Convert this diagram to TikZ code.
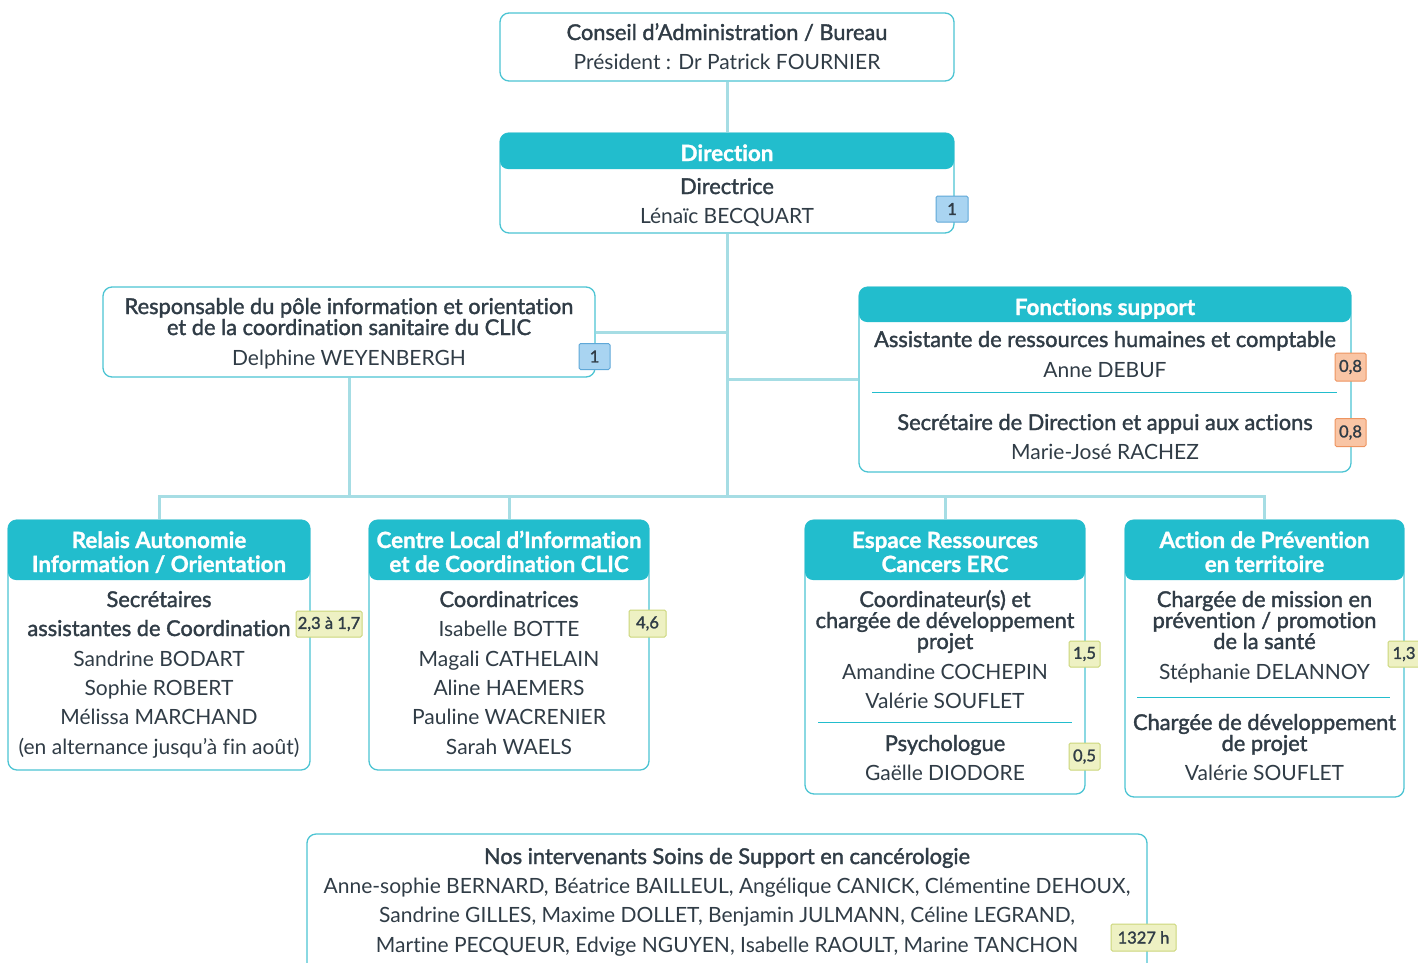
\documentclass[tikz,border=0pt]{standalone}
\usepackage{fontspec}
\setmainfont{Lato}[Ligatures=NoCommon]
\newfontfamily\medfont[FakeBold=1.6,Ligatures=NoCommon]{Lato}
\newfontfamily\hdfont[BoldFeatures={FakeBold=1.2},Ligatures=NoCommon]{Lato}
\definecolor{tealc}{HTML}{22BDCD}
\definecolor{bordc}{HTML}{4CC4D3}
\definecolor{linec}{HTML}{A6DDE4}
\definecolor{txt}{HTML}{303C46}
\definecolor{bluef}{HTML}{A9D4F1}
\definecolor{blued}{HTML}{5FA8D8}
\definecolor{orf}{HTML}{F9C5A5}
\definecolor{ord}{HTML}{EE9460}
\definecolor{grf}{HTML}{EEF1C3}
\definecolor{grd}{HTML}{CBD67A}
\newcounter{tn}
\newcommand{\tx}[4][]{\stepcounter{tn}\node[tt,#1] (t\arabic{tn}) at (#2,#3) {#4};}
\tikzset{
  box/.style={draw=bordc, line width=1.3pt, rounded corners=9pt, fill=white, inner sep=0pt},
  hdr/.style={fill=tealc, rounded corners=8pt, inner sep=0pt},
  conn/.style={draw=linec, line width=3pt},
  sep/.style={draw=tealc, line width=1pt},
  tt/.style={anchor=base, inner sep=0pt, text=txt, font=\fontsize{21}{25}\selectfont},
  md/.style={font=\medfont\fontsize{21.8}{25}\selectfont},
  hd/.style={text=white, font=\hdfont\bfseries\fontsize{22.4}{25}\selectfont},
  badge/.style={draw=#1d, fill=#1f, line width=1pt, rounded corners=1.5pt, inner sep=0pt, minimum height=26pt, text=txt, font=\medfont\fontsize{16.5}{16.5}\selectfont},
}
\begin{document}
\begin{tikzpicture}[x=1pt,y=-1pt]
\useasboundingbox (0,0) rectangle (1418,962);
\clip (0,0) rectangle (1418,962);
% boxes
\node[box, minimum width=454pt, minimum height=68pt] (conseil) at (727,47) {};
\node[box, minimum width=454pt, minimum height=100pt] (direction) at (727,183) {};
\node[box, minimum width=492pt, minimum height=90pt] (resp) at (349,332) {};
\node[box, minimum width=492pt, minimum height=185pt] (fonctions) at (1105,379.5) {};
\node[box, minimum width=302pt, minimum height=250pt] (relais) at (159,645) {};
\node[box, minimum width=280pt, minimum height=250pt] (clic) at (509,645) {};
\node[box, minimum width=280pt, minimum height=274pt] (erc) at (945,657) {};
\node[box, minimum width=279pt, minimum height=277pt] (action) at (1264.5,658.5) {};
\node[box, minimum width=840pt, minimum height=166pt] (bottom) at (727,917) {};
% headers
\node[hdr, minimum width=454pt, minimum height=36pt] (dirh) at (727,151) {};
\node[hdr, minimum width=492pt, minimum height=35pt] (fonh) at (1105,304.5) {};
\node[hdr, minimum width=302pt, minimum height=60pt] (relh) at (159,550) {};
\node[hdr, minimum width=280pt, minimum height=60pt] (clih) at (509,550) {};
\node[hdr, minimum width=280pt, minimum height=60pt] (erch) at (945,550) {};
\node[hdr, minimum width=279pt, minimum height=60pt] (acth) at (1264.5,550) {};
% connectors
\coordinate (bus) at (727,496);
\draw[conn] (conseil.south) -- (direction.north);
\draw[conn] (direction.south) -- (bus);
\draw[conn] (resp.east) -- (resp.east -| direction.south);
\draw[conn] (fonctions.west) -- (fonctions.west -| direction.south);
\draw[conn] (resp.south) -- (resp.south |- bus);
\draw[conn] (relais.north) |- (bus) -| (action.north);
\draw[conn] (clic.north) -- (clic.north |- bus);
\draw[conn] (erc.north) -- (erc.north |- bus);
% separators
\draw[sep] (872,392) -- (1337,392);
\draw[sep] (818,722) -- (1072,722);
\draw[sep] (1137,697) -- (1390,697);
% texts
\tx[md]{727}{40}{Conseil d’Administration / Bureau}
\tx{727}{69}{Président : Dr Patrick FOURNIER}
\tx[hd]{727}{161}{Direction}
\tx[md]{727}{194}{Directrice}
\tx{727}{223}{Lénaïc BECQUART}
\tx[md]{349}{314}{Responsable du pôle information et orientation}
\tx[md]{349}{335}{et de la coordination sanitaire du CLIC}
\tx{349}{365}{Delphine WEYENBERGH}
\tx[hd]{1105}{315}{Fonctions support}
\tx[md]{1105}{347}{Assistante de ressources humaines et comptable}
\tx{1105}{377}{Anne DEBUF}
\tx[md]{1105}{430}{Secrétaire de Direction et appui aux actions}
\tx{1105}{459}{Marie-José RACHEZ}
% Relais
\tx[hd]{159}{548}{Relais Autonomie}
\tx[hd]{159}{572}{Information / Orientation}
\tx[md]{159}{607}{Secrétaires}
\tx[md]{159}{636}{assistantes de Coordination}
\tx{159}{666}{Sandrine BODART}
\tx{159}{695}{Sophie ROBERT}
\tx{159}{724}{Mélissa MARCHAND}
\tx{159}{754}{(en alternance jusqu’à fin août)}
% CLIC
\tx[hd]{509}{548}{Centre Local d’Information}
\tx[hd]{509}{572}{et de Coordination CLIC}
\tx[md]{509}{607}{Coordinatrices}
\tx{509}{636}{Isabelle BOTTE}
\tx{509}{666}{Magali CATHELAIN}
\tx{509}{695}{Aline HAEMERS}
\tx{509}{724}{Pauline WACRENIER}
\tx{509}{754}{Sarah WAELS}
% ERC
\tx[hd]{945}{548}{Espace Ressources}
\tx[hd]{945}{572}{Cancers ERC}
\tx[md]{945}{607}{Coordinateur(s) et}
\tx[md]{945}{628}{chargée de développement}
\tx[md]{945}{649}{projet}
\tx{945}{679}{Amandine COCHEPIN}
\tx{945}{708}{Valérie SOUFLET}
\tx[md]{945}{751}{Psychologue}
\tx{945}{780}{Gaëlle DIODORE}
% Action
\tx[hd]{1264.5}{548}{Action de Prévention}
\tx[hd]{1264.5}{572}{en territoire}
\tx[md]{1264.5}{607}{Chargée de mission en}
\tx[md]{1264.5}{628}{prévention / promotion}
\tx[md]{1264.5}{649}{de la santé}
\tx{1264.5}{679}{Stéphanie DELANNOY}
\tx[md]{1264.5}{730}{Chargée de développement}
\tx[md]{1264.5}{751}{de projet}
\tx{1264.5}{780}{Valérie SOUFLET}
% bottom
\tx[md]{727}{864}{Nos intervenants Soins de Support en cancérologie}
\tx{727}{893}{Anne-sophie BERNARD, Béatrice BAILLEUL, Angélique CANICK, Clémentine DEHOUX,}
\tx{727}{922}{Sandrine GILLES, Maxime DOLLET, Benjamin JULMANN, Céline LEGRAND,}
\tx{727}{952}{Martine PECQUEUR, Edvige NGUYEN, Isabelle RAOULT, Marine TANCHON}
% badges
\node[badge=blue, minimum width=32pt] (b1) at (952,209) {1};
\node[badge=blue, minimum width=31pt] (b2) at (594.5,356.5) {1};
\node[badge=or, minimum width=31pt, minimum height=28pt] (b3) at (1350.5,367) {0,8};
\node[badge=or, minimum width=31pt, minimum height=28pt] (b4) at (1350.5,432.5) {0,8};
\node[badge=gr, minimum width=66pt] (b5) at (329,624) {2,3 à 1,7};
\node[badge=gr, minimum width=37pt, minimum height=27pt] (b6) at (647.5,623.5) {4,6};
\node[badge=gr, minimum width=31pt] (b7) at (1084.5,654) {1,5};
\node[badge=gr, minimum width=31pt, minimum height=27pt] (b8) at (1084.5,756.5) {0,5};
\node[badge=gr, minimum width=32pt] (b9) at (1404,654) {1,3};
\node[badge=gr, minimum width=65pt, minimum height=27pt] (b10) at (1143.5,937.5) {1327 h};
\end{tikzpicture}
\end{document}
